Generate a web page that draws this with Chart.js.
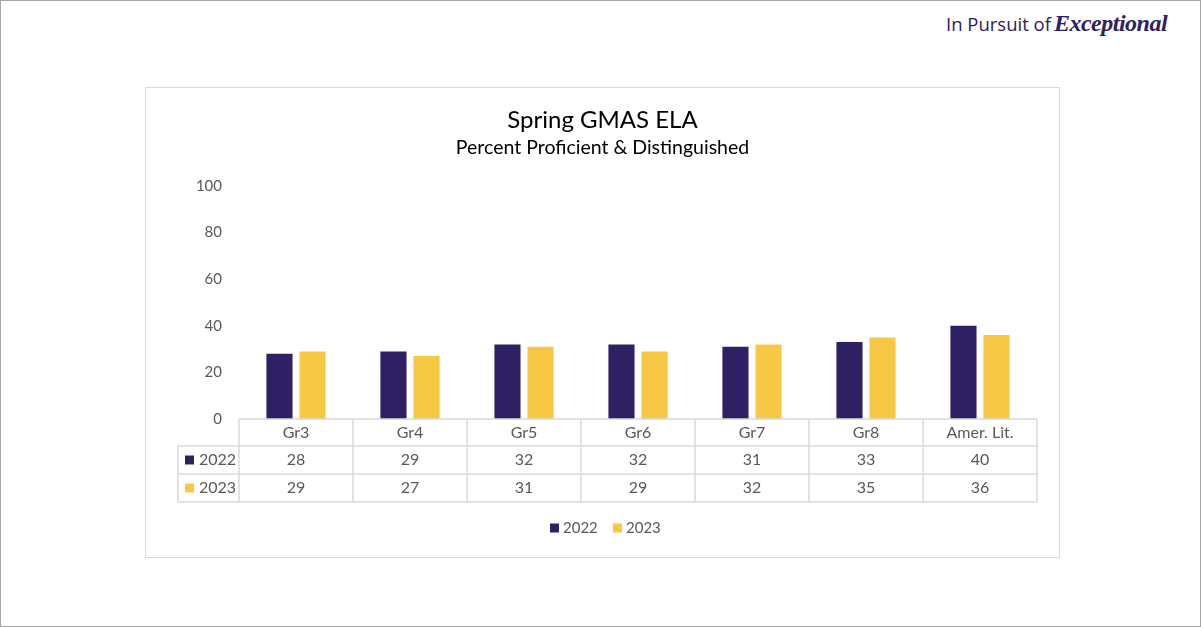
<!DOCTYPE html>
<html><head><meta charset="utf-8">
<script src="https://cdn.jsdelivr.net/npm/chart.js@4"></script>
<style>
html,body{margin:0;padding:0;background:#fff;}
#page{position:relative;width:1199px;height:625px;border:1px solid #a6a6a6;overflow:hidden;font-family:Lato,"Open Sans",sans-serif;}
#logo{position:absolute;left:945px;top:9px;color:#2e2063;white-space:nowrap;}
#logo .a{font-size:18.5px;font-family:"Open Sans",sans-serif;}
#logo .b{font-size:24px;font-style:italic;font-weight:bold;font-family:"Liberation Serif",serif;letter-spacing:-0.5px;margin-left:3px;}
#box{position:absolute;left:144px;top:86px;width:913px;height:469px;border:1px solid #d9d9d9;}
canvas{display:block;}
</style></head>
<body>
<div id="page">
  <div id="logo"><span class="a">In Pursuit of</span><span class="b">Exceptional</span></div>
  <div id="box"><canvas id="c" width="913" height="469"></canvas></div>
</div>
<script>
const categories = ["Gr3","Gr4","Gr5","Gr6","Gr7","Gr8","Amer. Lit."];
const values2022 = [28,29,32,32,31,33,40];
const values2023 = [29,27,31,29,32,35,36];
const seriesNames = ["2022","2023"];
const yTicks = [0,20,40,60,80,100];
const titleText = "Spring GMAS ELA";
const subtitleText = "Percent Proficient & Distinguished";

const colors = ["#2e2063","#f7c844"];
const grayText = "#595959";
const lineCol = "#d9d9d9";
const FONT = "Lato, 'Open Sans', sans-serif";

const tablePlugin = {
  id: "tablePlugin",
  afterDraw(chart) {
    const ctx = chart.ctx;
    const x = chart.scales.x, y = chart.scales.y;
    const left = chart.chartArea.left, right = chart.chartArea.right;
    const top = y.getPixelForValue(0);
    const rowH = [27, 28, 28];
    const r1 = top + rowH[0], r2 = r1 + rowH[1], r3 = r2 + rowH[2];
    const hdrLeft = 32;
    const n = categories.length;
    const cw = (right - left) / n;
    ctx.save();
    // title
    ctx.fillStyle = "#000";
    ctx.textAlign = "center";
    ctx.textBaseline = "middle";
    ctx.font = "24px " + FONT;
    ctx.fillText(titleText, chart.width / 2, 32);
    ctx.font = "19.5px " + FONT;
    ctx.fillText(subtitleText, chart.width / 2, 60);
    // grid lines of table
    ctx.strokeStyle = lineCol;
    ctx.lineWidth = 1.5;
    ctx.beginPath();
    ctx.moveTo(left, top); ctx.lineTo(right, top);
    [r1, r2, r3].forEach(yy => { ctx.moveTo(hdrLeft, yy); ctx.lineTo(right, yy); });
    ctx.moveTo(hdrLeft, r1); ctx.lineTo(hdrLeft, r3);
    for (let i = 0; i <= n; i++) {
      const xx = left + i * cw;
      ctx.moveTo(xx, top); ctx.lineTo(xx, r3);
    }
    ctx.stroke();
    // text
    ctx.font = "16px " + FONT;
    ctx.fillStyle = grayText;
    ctx.textAlign = "center";
    categories.forEach((c, i) => {
      const cx = x.getPixelForValue(i);
      ctx.fillText(c, cx, (top + r1) / 2);
      ctx.fillText(String(values2022[i]), cx, (r1 + r2) / 2);
      ctx.fillText(String(values2023[i]), cx, (r2 + r3) / 2);
    });
    // row headers
    ctx.textAlign = "left";
    [[values2022, r1, r2], [values2023, r2, r3]].forEach((row, k) => {
      const cy = (row[1] + row[2]) / 2;
      ctx.fillStyle = colors[k];
      ctx.fillRect(hdrLeft + 7, cy - 4.5, 9, 9);
      ctx.fillStyle = grayText;
      ctx.fillText(seriesNames[k], hdrLeft + 21, cy);
    });
    // legend
    ctx.font = "15px " + FONT;
    const ly = 440;
    const lx = [404, 467];
    seriesNames.forEach((s, k) => {
      ctx.fillStyle = colors[k];
      ctx.fillRect(lx[k], ly - 4.5, 9, 9);
      ctx.fillStyle = grayText;
      ctx.fillText(s, lx[k] + 13, ly);
    });
    ctx.restore();
  }
};

new Chart(document.getElementById("c"), {
  type: "bar",
  data: {
    labels: categories,
    datasets: [
      { label: seriesNames[0], data: values2022, backgroundColor: colors[0] },
      { label: seriesNames[1], data: values2023, backgroundColor: colors[1] }
    ]
  },
  options: {
    responsive: false,
    animation: false,
    events: [],
    categoryPercentage: 0.58,
    barPercentage: 0.79,
    layout: { padding: { top: 98, right: 22, bottom: 138, left: 0 } },
    plugins: { legend: { display: false }, title: { display: false }, tooltip: { enabled: false } },
    scales: {
      x: { display: false },
      y: {
        min: 0, max: 100,
        afterFit(s) { s.width = 93; },
        afterBuildTicks(s) { s.ticks = yTicks.map(v => ({ value: v })); },
        grid: { display: false, drawTicks: false },
        border: { display: false },
        ticks: { padding: 17, color: grayText, font: { family: FONT, size: 15 } }
      }
    }
  },
  plugins: [tablePlugin]
});
</script>
</body></html>
